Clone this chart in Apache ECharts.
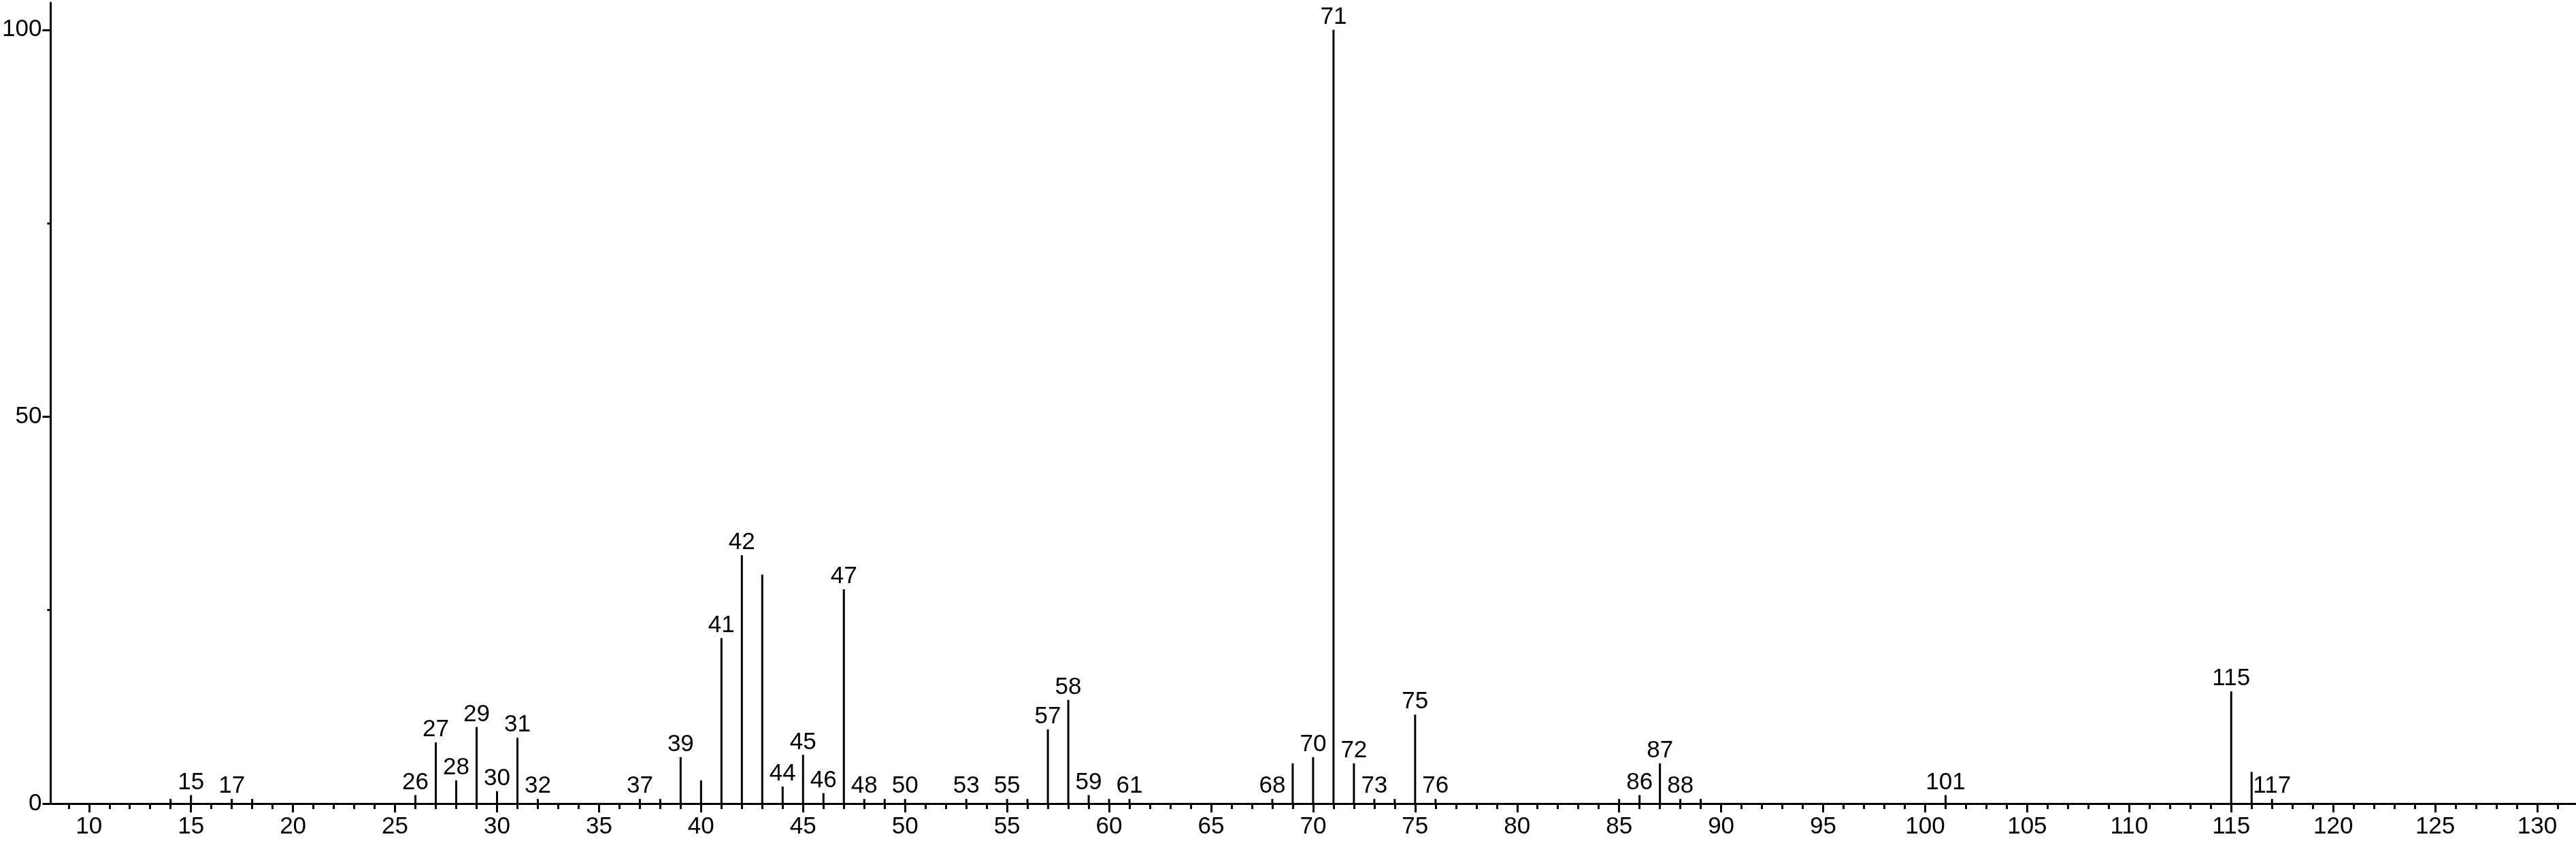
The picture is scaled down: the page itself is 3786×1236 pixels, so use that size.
<!DOCTYPE html>
<html>
<head>
<meta charset="utf-8">
<style>
  html, body { margin: 0; padding: 0; background: #fff; }
  #chart { width: 3786px; height: 1236px; }
</style>
<script src="https://cdn.jsdelivr.net/npm/echarts@6/dist/echarts.min.js"></script>
</head>
<body>
<div id="chart"></div>
<script>
// m/z values of peaks
const mz = [14, 15, 17, 18, 26, 27, 28, 29, 30, 31, 32, 37, 38, 39, 40, 41, 42, 43, 44, 45, 46, 47, 48, 49, 50, 53, 55, 56, 57, 58, 59, 60, 61, 68, 69, 70, 71, 72, 73, 74, 75, 76, 85, 86, 87, 88, 89, 101, 115, 116, 117];
// relative intensities (%)
const intensity = [0.6, 1.1, 0.6, 0.6, 1.1, 7.9, 3.0, 9.9, 1.6, 8.5, 0.6, 0.6, 0.6, 6.0, 3.0, 21.4, 32.1, 29.6, 2.2, 6.3, 1.35, 27.7, 0.6, 0.6, 0.6, 0.6, 0.6, 0.6, 9.6, 13.4, 1.1, 0.6, 0.6, 0.6, 5.2, 6.0, 100, 5.2, 0.6, 0.6, 11.5, 0.6, 0.6, 1.1, 5.2, 0.6, 0.6, 1.1, 14.5, 4.1, 0.6];
// peaks carrying a label
const labeledPeaks = [15, 17, 26, 27, 28, 29, 30, 31, 32, 37, 39, 41, 42, 44, 45, 46, 47, 48, 50, 53, 55, 57, 58, 59, 61, 68, 70, 71, 72, 73, 75, 76, 86, 87, 88, 101, 115, 117];
// axis ticks
const xMajorTicks = [10, 15, 20, 25, 30, 35, 40, 45, 50, 55, 60, 65, 70, 75, 80, 85, 90, 95, 100, 105, 110, 115, 120, 125, 130];
const xMinorTicks = [9, 11, 12, 13, 14, 16, 17, 18, 19, 21, 22, 23, 24, 26, 27, 28, 29, 31, 32, 33, 34, 36, 37, 38, 39, 41, 42, 43, 44, 46, 47, 48, 49, 51, 52, 53, 54, 56, 57, 58, 59, 61, 62, 63, 64, 66, 67, 68, 69, 71, 72, 73, 74, 76, 77, 78, 79, 81, 82, 83, 84, 86, 87, 88, 89, 91, 92, 93, 94, 96, 97, 98, 99, 101, 102, 103, 104, 106, 107, 108, 109, 111, 112, 113, 114, 116, 117, 118, 119, 121, 122, 123, 124, 126, 127, 128, 129, 131];
const yMajorTicks = [0, 50, 100];
const yMinorTicks = [25, 75];

const FONT = "'Liberation Sans', Arial, sans-serif";
const X_MIN = 8.12, X_MAX = 131.9, Y_MAX = 103.5;

const data = mz.map((m, i) => {
  const item = { value: [m, intensity[i]] };
  if (labeledPeaks.indexOf(m) >= 0) {
    item.label = { show: true, formatter: String(m) };
  }
  return item;
});

const chart = echarts.init(document.getElementById('chart'), null, { renderer: 'canvas' });
chart.setOption({
  animation: false,
  backgroundColor: '#ffffff',
  grid: { left: 69, right: 0, top: 4, bottom: 55, containLabel: false },
  xAxis: [
    {
      type: 'value', min: X_MIN, max: X_MAX,
      axisLine: { show: true, lineStyle: { color: '#000', width: 3 } },
      axisTick: { show: true, customValues: xMajorTicks, length: 13, lineStyle: { color: '#000', width: 3 } },
      axisLabel: { show: true, customValues: xMajorTicks, margin: 17, color: '#000', fontSize: 35, fontFamily: FONT },
      splitLine: { show: false }
    },
    {
      type: 'value', min: X_MIN, max: X_MAX, position: 'bottom',
      axisLine: { show: false },
      axisTick: { show: true, customValues: xMinorTicks, length: 8, lineStyle: { color: '#000', width: 3 } },
      axisLabel: { show: false },
      splitLine: { show: false }
    }
  ],
  yAxis: [
    {
      type: 'value', min: 0, max: Y_MAX,
      axisLine: { show: true, lineStyle: { color: '#000', width: 3 } },
      axisTick: { show: true, customValues: yMajorTicks, length: 12, lineStyle: { color: '#000', width: 3 } },
      axisLabel: { show: true, customValues: yMajorTicks, margin: 13, color: '#000', fontSize: 35, fontFamily: FONT },
      splitLine: { show: false }
    },
    {
      type: 'value', min: 0, max: Y_MAX, position: 'left',
      axisLine: { show: false },
      axisTick: { show: true, customValues: yMinorTicks, length: 5, lineStyle: { color: '#000', width: 3 } },
      axisLabel: { show: false },
      splitLine: { show: false }
    }
  ],
  series: [
    {
      type: 'bar',
      xAxisIndex: 0, yAxisIndex: 0,
      barWidth: 3,
      itemStyle: { color: '#000' },
      label: {
        show: false, position: 'top', distance: 1,
        color: '#000', fontSize: 35, fontFamily: FONT
      },
      data: data
    }
  ]
});
</script>
</body>
</html>
